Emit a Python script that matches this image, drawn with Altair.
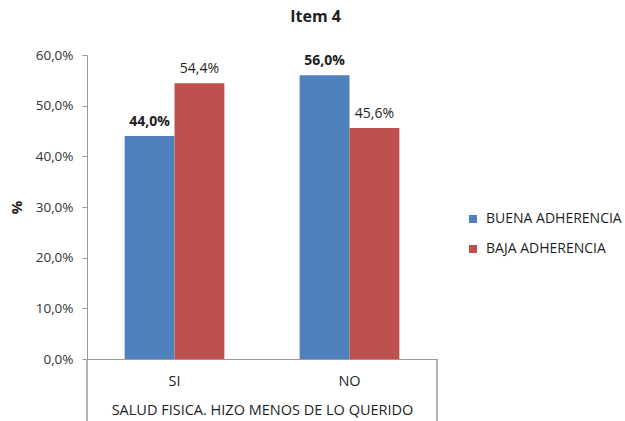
import altair as alt
import pandas as pd

categories = ["SI", "NO"]
series = ["BUENA ADHERENCIA", "BAJA ADHERENCIA"]
buena = [44.0, 56.0]
baja = [54.4, 45.6]
colors = ["#4F81BD", "#C0504D"]

rows = []
for i, c in enumerate(categories):
    rows.append({"cat": c, "serie": series[0], "val": buena[i]})
    rows.append({"cat": c, "serie": series[1], "val": baja[i]})
df = pd.DataFrame(rows)
df["lbl"] = df["val"].map(lambda v: f"{v:.1f}".replace(".", ",") + "%")

FONT = "Open Sans"
TXT = "#1e1e1e"
W, H = 350, 304

x_enc = alt.X("cat:N", sort=categories,
              scale=alt.Scale(paddingInner=0, paddingOuter=0),
              axis=alt.Axis(title="SALUD FISICA. HIZO MENOS DE LO QUERIDO",
                            labelAngle=0, ticks=False, labelPadding=15,
                            labelFontSize=14.5, labelColor=TXT,
                            titleFontSize=14.5, titleFontWeight="normal",
                            titleColor=TXT, titlePadding=16,
                            domainColor="#9a9a9a", labelFont=FONT, titleFont=FONT))
xoff = alt.XOffset("serie:N", sort=series,
                   scale=alt.Scale(paddingInner=0, paddingOuter=0.755))
y_enc = alt.Y("val:Q", scale=alt.Scale(domain=[0, 60]),
              axis=alt.Axis(title="%", values=[0, 10, 20, 30, 40, 50, 60],
                            labelExpr="replace(format(datum.value, '.1f'), '.', ',') + '%'",
                            grid=False, tickSize=5, labelPadding=9,
                            labelFontSize=13.5, labelColor="#333333",
                            titleFontSize=15, titleFontWeight="bold",
                            titleColor=TXT, titlePadding=11,
                            domainColor="#9a9a9a", tickColor="#9a9a9a",
                            labelFont=FONT, titleFont=FONT))

base = alt.Chart(df)

bars = base.mark_bar().encode(
    x=x_enc, xOffset=xoff, y=y_enc,
    color=alt.Color("serie:N", sort=series,
                    scale=alt.Scale(domain=series, range=colors),
                    legend=alt.Legend(title=None, orient="none", legendX=379, legendY=157,
                                      symbolType="square", symbolSize=64,
                                      symbolStrokeWidth=0,
                                      labelFontSize=14, labelColor=TXT,
                                      labelFont=FONT, rowPadding=16, labelOffset=6)),
)

text_b = base.transform_filter(alt.datum.serie == series[0]).mark_text(
    baseline="bottom", dy=-7, fontSize=14, fontWeight="bold", color=TXT, font=FONT
).encode(x=alt.X("cat:N", sort=categories), xOffset=alt.XOffset("serie:N", sort=series),
         y="val:Q", text="lbl:N")

text_r = base.transform_filter(alt.datum.serie == series[1]).mark_text(
    baseline="bottom", dy=-7, fontSize=14, color=TXT, font=FONT
).encode(x=alt.X("cat:N", sort=categories), xOffset=alt.XOffset("serie:N", sort=series),
         y="val:Q", text="lbl:N")

edge_df = pd.DataFrame({"side": ["l", "r"]})
edges = alt.Chart(edge_df).mark_rule(color="#9a9a9a", strokeWidth=1).encode(
    x=alt.value(0), y=alt.value(H), y2=alt.value(H + 70)
)
edges_r = alt.Chart(edge_df).mark_rule(color="#9a9a9a", strokeWidth=1).encode(
    x=alt.value(W), y=alt.value(H), y2=alt.value(H + 70)
)

chart = alt.layer(bars, text_b, text_r, edges, edges_r).properties(
    width=W, height=H,
    title=alt.TitleParams("Item 4", fontSize=16, fontWeight="bold", font=FONT,
                          color=TXT, anchor="middle", frame="bounds", offset=23),
    autosize=alt.AutoSizeParams(type="none"),
    padding={"left": 87, "top": 55, "right": 188, "bottom": 62},
).configure_view(stroke=None).configure_scale(bandPaddingInner=0)

chart.save("out.html", embed_options={"renderer": "svg", "actions": False})
